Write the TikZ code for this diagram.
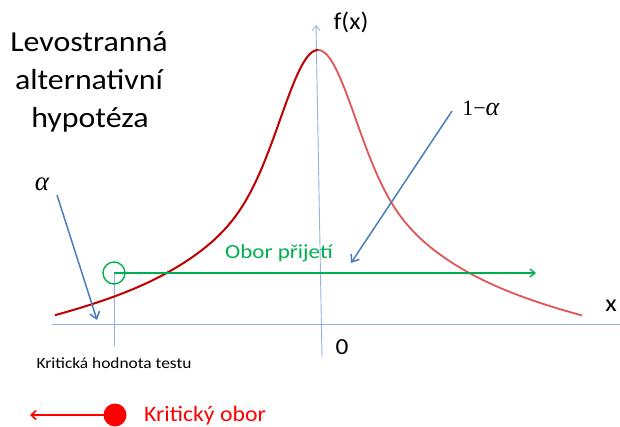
\documentclass[tikz,border=0pt]{standalone}
\usepackage{fontspec}
\setmainfont{Carlito}
\newfontfamily\serifup{Liberation Serif}
\usetikzlibrary{arrows.meta}
\definecolor{axisblue}{HTML}{95B3DE}
\definecolor{arrblue}{HTML}{4A7EBB}
\definecolor{darkred}{HTML}{C00000}
\definecolor{lightred}{HTML}{E05555}
\definecolor{okgreen}{HTML}{00B050}
\tikzset{
  axisline/.style={draw=axisblue, line width=0.9pt},
  bluearrow/.style={draw=arrblue, line width=1.5pt, -{Straight Barb[length=6.5pt,width=10pt,line width=1.5pt]}},
  greenarrow/.style={draw=okgreen, line width=1.4pt, -{Straight Barb[length=5pt,width=8pt,line width=1.4pt]}},
  redarrow/.style={draw=red, line width=1.6pt, -{Straight Barb[length=5pt,width=9pt,line width=1.6pt]}},
  lbl/.style={inner sep=0pt, outer sep=0pt},
  curveline/.style={line width=1.8pt},
}
\begin{document}
\begin{tikzpicture}[x=1pt,y=-1pt]
\useasboundingbox (0,0) rectangle (620,427);
% axes
\coordinate (xa0) at (52,324);
\coordinate (xa1) at (620,324);
\draw[axisline] (xa0) -- (xa1);
\coordinate (ya0) at (322,358);
\coordinate (ya1) at (316,25);
\draw[axisline, -{Straight Barb[length=5pt,width=8pt,line width=0.9pt]}] (ya0) -- (ya1);
% critical value line
\coordinate (kv0) at (114,274);
\coordinate (kv1) at (114,347);
\draw[axisline] (kv0) -- (kv1);
% curve
\draw[lightred, curveline] plot[domain=-263:264, samples=200, smooth] ({318+\x}, {323-(113*exp(-0.5*(\x/34)^2) + 160/(1+(\x/110)^2) - 16*(\x/263)^2)});
\begin{scope}
\clip (0,0) rectangle (318,427);
\draw[darkred, curveline] plot[domain=-263:2, samples=150, smooth] ({318+\x}, {323-(113*exp(-0.5*(\x/34)^2) + 160/(1+(\x/110)^2) - 16*(\x/263)^2)});
\end{scope}
% labels
\node[lbl, anchor=base, font=\fontsize{29}{35}\selectfont] (t1) at (89,52) {\scalebox{1.1}[1]{Levostranná}};
\node[lbl, anchor=base, font=\fontsize{29}{35}\selectfont] (t2) at (89,90) {\scalebox{1.1}[1]{alternativní}};
\node[lbl, anchor=base, font=\fontsize{29}{35}\selectfont] (t3) at (90,128) {\scalebox{1.1}[1]{hypotéza}};
\node[lbl, font=\fontsize{24}{28}\selectfont] (fx) at (351,22) {\scalebox{1.08}[1]{f(x)}};
\node[lbl, font=\fontsize{24}{28}\selectfont] (xl) at (611,306) {\scalebox{1.1}[1]{x}};
\node[lbl, font=\fontsize{23}{28}\selectfont] (zero) at (342,347) {\scalebox{1.1}[1]{0}};
\node[lbl, font=\fontsize{15.5}{19}\selectfont] (kht) at (114,363) {\scalebox{1.12}[1]{Kritická hodnota testu}};
\node[lbl, font=\fontsize{20}{24}\selectfont, text=okgreen] (opr) at (279,253) {\scalebox{1.15}[1]{Obor přijetí}};
\node[lbl, font=\fontsize{22}{26}\selectfont, text=red] (kob) at (205,416) {\scalebox{1.08}[1]{Kritický obor}};
\node[lbl, font=\fontsize{27}{30}\serifup\itshape] (al) at (42,184) {α};
\node[lbl, font=\fontsize{22}{26}\serifup] (oma) at (481,108) {1−\textit{\fontsize{26}{30}\selectfont α}};
% blue arrows
\coordinate (a0) at (57,195);
\coordinate (a1) at (97,320);
\draw[bluearrow] (a0) -- (a1);
\coordinate (b0) at (452,111);
\coordinate (b1) at (351,263);
\draw[bluearrow] (b0) -- (b1);
% green acceptance
\node[draw=okgreen, line width=1.4pt, circle, minimum size=22pt, inner sep=0pt] (gc) at (114,273) {};
\coordinate (gend) at (536,273);
\draw[greenarrow] (gc.center) -- (gend);
% red critical region
\node[fill=red, circle, minimum size=23pt, inner sep=0pt] (rc) at (115,415) {};
\coordinate (rend) at (30,415);
\draw[redarrow] (rc.center) -- (rend);
\end{tikzpicture}
\end{document}
